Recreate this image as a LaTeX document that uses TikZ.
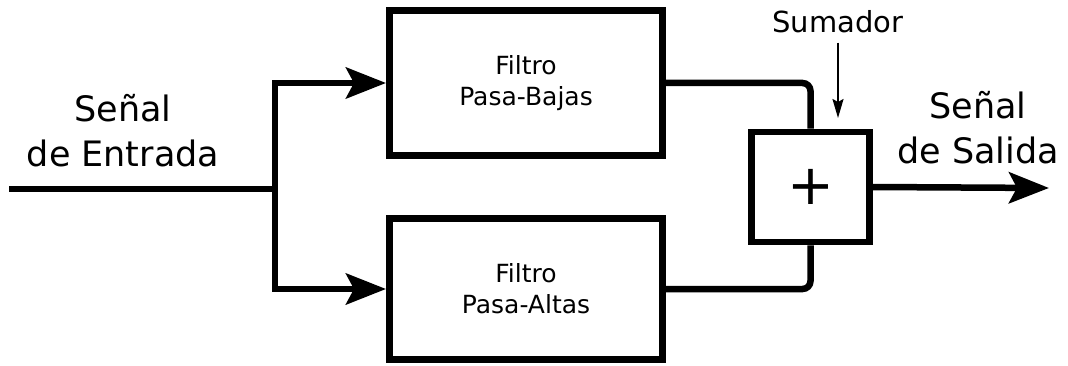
\documentclass[tikz,border=0pt]{standalone}
\usepackage{fontspec}
\setmainfont{DejaVu Sans}
\usetikzlibrary{arrows.meta,positioning}
\tikzset{
  blockbox/.style={draw, line width=7pt, inner sep=0pt, align=center,
    font=\fontsize{25pt}{31pt}\selectfont},
  sumbox/.style={draw, line width=6.5pt, inner sep=0pt,
    minimum width=118pt, minimum height=110pt,
    font=\fontsize{56pt}{60pt}\selectfont},
  biglabel/.style={align=center, inner sep=0pt, anchor=base,
    font=\fontsize{35pt}{45pt}\selectfont},
  conn/.style={line width=6.5pt},
  bigarrow/.style={line width=6.5pt, -{Stealth[length=40pt,width=31pt,inset=8pt]}},
  thinarrow/.style={line width=2pt, -{Stealth[length=19pt,width=11pt,inset=3pt]}},
}
\begin{document}
\begin{tikzpicture}[x=1pt,y=-1pt]
\useasboundingbox (0,0) rectangle (1068,366);
% blocks
\node[blockbox, minimum width=273pt, minimum height=145pt] (lp) at (526,83) {Filtro\\Pasa-Bajas};
\node[blockbox, minimum width=273pt, minimum height=141pt] (hp) at (526,289) {Filtro\\Pasa-Altas};
\node[sumbox] (sum) at (810.5,187) {+};
% labels (base anchor = last line's baseline)
\node[biglabel] (inlbl) at (123,167) {Señal\\de Entrada};
\node[biglabel] (outlbl) at (978,164) {Señal\\de Salida};
\node[inner sep=0pt, anchor=base, font=\fontsize{29pt}{34pt}\selectfont] (sumlbl) at (838,33) {Sumador};
% coordinates
\coordinate (in) at (9,189);
\coordinate (j) at (275,189);
\coordinate (out) at (1049,188);
\coordinate (sumtip) at (838,118);
% connectors
\draw[conn] (in) -- (j);
\draw[bigarrow] (j) |- (lp.west);
\draw[bigarrow] (j) |- (hp.west);
\draw[conn, rounded corners=8pt] (lp.east) -| (sum.north);
\draw[conn, rounded corners=8pt] (hp.east) -| (sum.south);
\draw[bigarrow] (sum.east) -- (out);
\draw[thinarrow, shorten <=9pt] (sumlbl.south) -- (sumtip);
\end{tikzpicture}
\end{document}
